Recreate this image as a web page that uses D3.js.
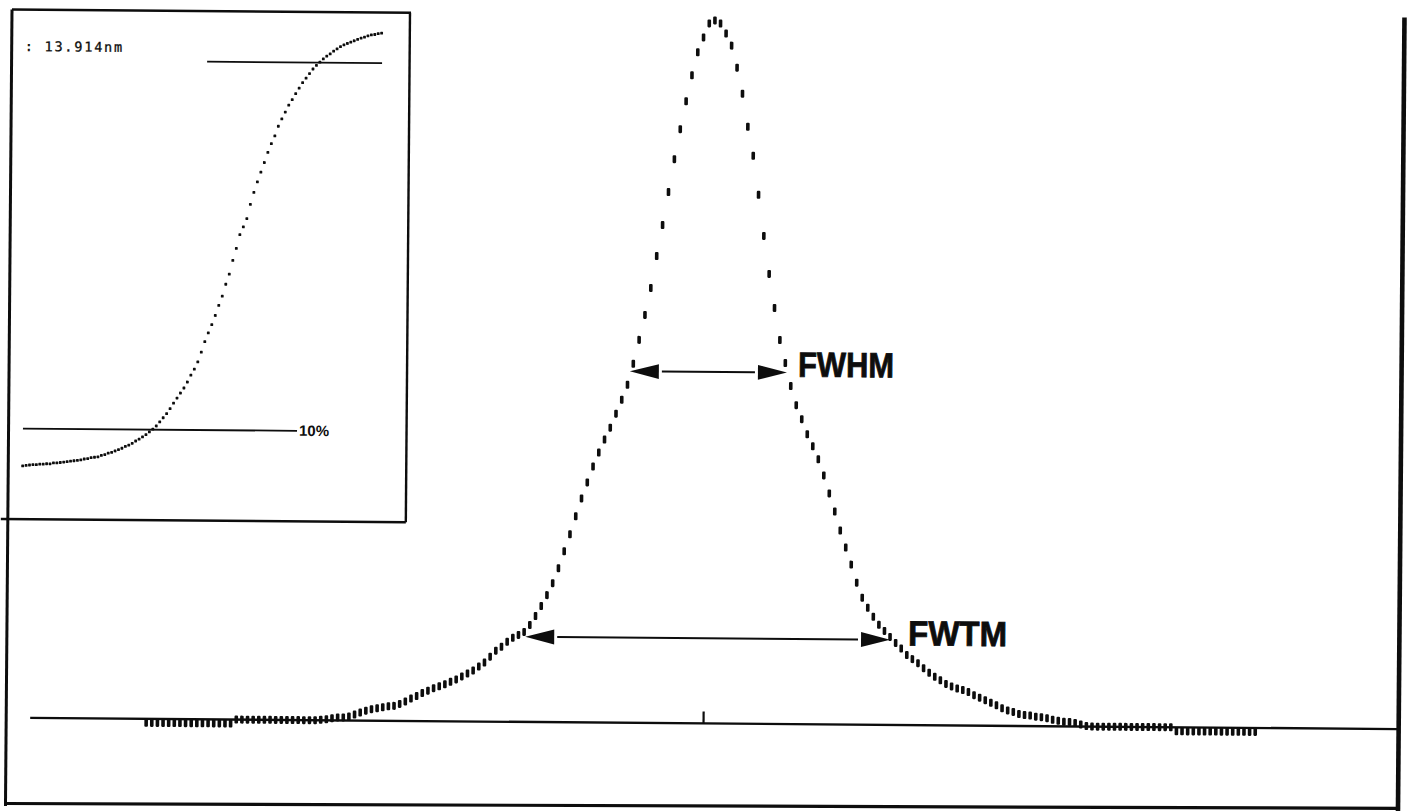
<!DOCTYPE html>
<html>
<head>
<meta charset="utf-8">
<script src="https://cdn.jsdelivr.net/npm/d3@7/dist/d3.min.js"></script>
<style>
  html, body { margin: 0; background: #fff; }
  svg { display: block; }
</style>
</head>
<body>
<svg id="chart" width="1408" height="811"></svg>
<script>
// ═══════════════════════════════════════════════
//  Peak profile with FWHM / FWTM + edge-response inset
// ═══════════════════════════════════════════════

// ─── MAIN PEAK: counts per channel ───────────
const FIRST_CHANNEL = 412;
const peakCounts = [
  // 412–427 (below baseline)
  -40,-40,-40,-40,-40,-40,-40,-40,-40,-40,-40,-40,-40,-40,-40,-40,
  // 428–442
  0,0,0,0,0,0,0,0,0,0,0,0,0,0,0,
  // 443–511 (rising side)
  5,10,20,30,30,40,60,80,100,115,125,135,145,150,170,195,225,250,280,305,
  330,350,370,395,420,450,480,510,550,590,650,710,750,800,840,870,900,970,1060,1160,
  1270,1390,1540,1710,1880,2060,2240,2400,2560,2700,2830,2950,3090,3230,3380,3590,3830,4080,4350,4670,
  4980,5310,5640,5940,6220,6480,6710,6860,7000,
  // 512 (peak)
  7030,
  // 513–579 (falling side)
  7000,6900,6780,6560,6300,5970,5680,5290,4880,4500,4160,3840,3610,3380,3190,3050,2900,2780,2650,2490,
  2310,2130,1940,1770,1600,1420,1270,1170,1080,1000,940,880,820,765,700,660,620,570,525,485,
  450,415,390,370,355,335,305,280,255,230,205,175,155,140,120,110,105,95,90,80,
  65,55,45,45,35,20,5,
  // 580–594
  0,0,0,0,0,0,0,0,0,0,0,0,0,0,0,
  // 595–609 (below baseline)
  -40,-40,-40,-40,-40,-40,-40,-40,-40,-40,-40,-40,-40,-40,-40
];
const centroidChannel = 511;

// width markers: level in counts, left / right channel
const widthMarkers = [
  { label: "FWHM", level: 3515, left: 497.4, right: 525.3, dx: 11, dy: 4,   textLen: 96 },
  { label: "FWTM", level: 852,  left: 479.2, right: 544.0, dx: 18, dy: 5.5, textLen: 99 }
];

// ─── INSET: edge response, % of full signal ──
const edgeResponse = [
  1.9,2.0,2.1,2.2,2.2,2.3,2.3,2.4,2.4,2.6,2.6,2.7,2.8,2.9,3.0,3.1,3.2,3.3,3.5,3.6,
  3.8,3.9,4.0,4.3,4.5,4.8,5.0,5.3,5.6,5.9,6.3,6.6,7.0,7.5,7.9,8.4,8.9,9.5,10.1,10.8,
  11.7,12.6,13.5,14.6,15.8,16.9,18.0,19.1,20.4,21.9,23.2,24.8,26.9,29.2,31.1,32.9,34.9,37.1,39.1,41.7,
  43.9,46.9,49.5,52.5,54.2,56.0,59.1,61.7,64.0,66.1,68.2,70.4,72.3,74.0,76.1,77.7,79.2,80.7,81.9,83.2,
  84.4,85.6,86.6,87.6,88.6,89.4,90.1,90.8,91.4,91.9,92.5,93.0,93.5,93.9,94.2,94.5,94.8,95.1,95.4,95.6,
  95.9,96.1,96.2,96.4,96.5
];
// threshold lines: level %, start / end sample
const edgeLevels = [
  { level: 10, from: 0,  to: 80.2,  label: "10%" },
  { level: 90, from: 53, to: 104.2, label: "" }
];
const edgeWidthLabel = ": 13.914nm";

const INK = "#0d0d0d";

const svg = d3.select("#chart");
svg.append("rect").attr("width", 1408).attr("height", 811).attr("fill", "#fff");

// scanned sheet sits slightly rotated
const g = svg.append("g").attr("transform", "rotate(0.47, 10, 10)");

// ─── frame ───────────────────────────────────
const frame = [
  [12, 9.5, 411, 9.5, 2.4],    // inset top
  [12, 9.5, 12, 806, 3],       // left edge
  [410, 9.5, 410, 519, 2.4],   // inset right
  [5, 519, 410, 519, 2.4],     // inset bottom
  [12, 803.5, 1404, 797, 3.2], // bottom edge
  [1404.5, 6, 1404.5, 830, 4.6] // right edge
];
g.selectAll(".frame")
  .data(frame)
  .join("line")
    .attr("class", "frame")
    .attr("x1", d => d[0]).attr("y1", d => d[1])
    .attr("x2", d => d[2]).attr("y2", d => d[3])
    .attr("stroke", INK)
    .attr("stroke-width", d => d[4]);

// ─── main peak ───────────────────────────────
const lastChannel = FIRST_CHANNEL + peakCounts.length - 1;
const x = d3.scaleLinear()
  .domain([FIRST_CHANNEL, lastChannel])
  .range([152, 152 + 5.63 * (peakCounts.length - 1)]);
const y = d3.scaleLinear().domain([0, 7000]).range([717.7, 17.7]);

const peakData = peakCounts.map((c, i) => ({ ch: FIRST_CHANNEL + i, c }));

// baseline
g.append("line")
  .attr("x1", 36).attr("x2", 1404)
  .attr("y1", y(0)).attr("y2", y(0))
  .attr("stroke", INK).attr("stroke-width", 2.4);

// centroid tick
g.append("line")
  .attr("x1", x(centroidChannel)).attr("x2", x(centroidChannel))
  .attr("y1", y(0)).attr("y2", y(0) - 12)
  .attr("stroke", INK).attr("stroke-width", 2.2);

// printer dashes, one per channel
g.selectAll(".pt")
  .data(peakData)
  .join("rect")
    .attr("class", "pt")
    .attr("x", d => x(d.ch) - 1.8)
    .attr("y", d => y(d.c) - 4)
    .attr("width", 3.6)
    .attr("height", 8)
    .attr("rx", 1.1)
    .attr("fill", INK);

// width markers (double arrows + label)
const HEAD = 29, HALF = 7.4, GAP = 3;
widthMarkers.forEach(m => {
  const yy = y(m.level);
  const xl = x(m.left), xr = x(m.right);
  const mg = g.append("g");
  mg.append("path")
    .attr("d", `M${xl},${yy} L${xl + HEAD},${yy - HALF} L${xl + HEAD},${yy + HALF} Z`)
    .attr("fill", INK);
  mg.append("path")
    .attr("d", `M${xr},${yy} L${xr - HEAD},${yy - HALF} L${xr - HEAD},${yy + HALF} Z`)
    .attr("fill", INK);
  mg.append("line")
    .attr("x1", xl + HEAD + GAP).attr("x2", xr - HEAD - GAP)
    .attr("y1", yy).attr("y2", yy)
    .attr("stroke", INK).attr("stroke-width", 2);
  mg.append("text")
    .attr("x", xr + m.dx).attr("y", yy + m.dy)
    .attr("font-family", "'Liberation Sans', Arial, sans-serif")
    .attr("font-weight", "bold")
    .attr("font-size", 35)
    .attr("textLength", m.textLen)
    .attr("lengthAdjust", "spacingAndGlyphs")
    .attr("fill", INK)
    .attr("stroke", INK)
    .attr("stroke-width", 0.8)
    .text(m.label);
});

// ─── inset ───────────────────────────────────
const ix = d3.scaleLinear().domain([0, edgeResponse.length - 1]).range([26.4, 381.8]);
const iy = d3.scaleLinear().domain([0, 100]).range([474.5, 14]);

g.selectAll(".edge-level")
  .data(edgeLevels)
  .join("line")
    .attr("class", "edge-level")
    .attr("x1", d => ix(d.from)).attr("x2", d => ix(d.to))
    .attr("y1", d => iy(d.level)).attr("y2", d => iy(d.level))
    .attr("stroke", INK).attr("stroke-width", 1.8);

g.selectAll(".edge-label")
  .data(edgeLevels.filter(d => d.label))
  .join("text")
    .attr("class", "edge-label")
    .attr("x", d => ix(d.to) + 2).attr("y", d => iy(d.level) + 5)
    .attr("font-family", "'Liberation Sans', Arial, sans-serif")
    .attr("font-size", 15)
    .attr("font-weight", "bold")
    .attr("fill", INK)
    .text(d => d.label);

g.selectAll(".edge-pt")
  .data(edgeResponse)
  .join("rect")
    .attr("class", "edge-pt")
    .attr("x", (d, i) => ix(i) - 1.4)
    .attr("y", d => iy(d) - 1.4)
    .attr("width", 2.8).attr("height", 2.8)
    .attr("rx", 0.6)
    .attr("fill", INK);

g.append("text")
  .attr("x", 25).attr("y", 51)
  .attr("font-family", "'DejaVu Sans Mono', monospace")
  .attr("font-size", 13.5)
  .attr("letter-spacing", 1.8)
  .attr("fill", INK)
  .attr("stroke", INK)
  .attr("stroke-width", 0.3)
  .text(edgeWidthLabel);
</script>
</body>
</html>
